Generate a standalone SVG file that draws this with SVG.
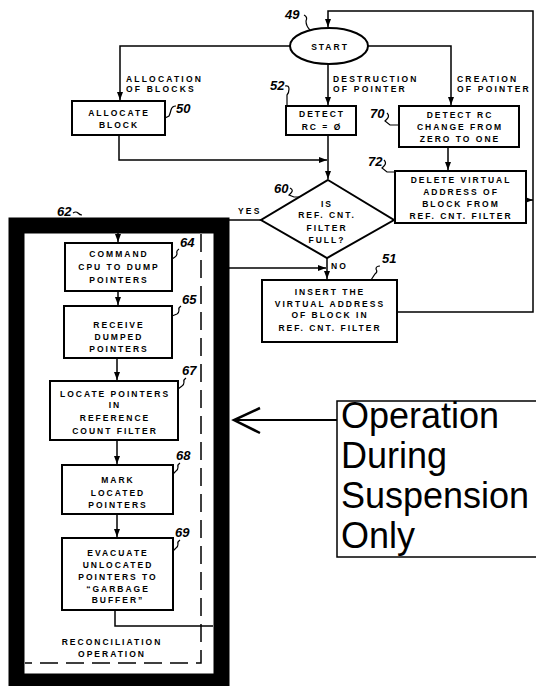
<svg xmlns="http://www.w3.org/2000/svg" width="536" height="686" viewBox="0 0 536 686">
<style>
.box{fill:#fff;stroke:#000;stroke-width:2}
.ln{fill:none;stroke:#000;stroke-width:1.5}
.sq{fill:none;stroke:#000;stroke-width:1.2}
.t{font-family:"Liberation Sans",Arial,sans-serif;font-weight:bold;font-size:8.5px;letter-spacing:2px;text-anchor:middle;fill:#000}
.tl{font-family:"Liberation Sans",Arial,sans-serif;font-weight:bold;font-size:8.5px;letter-spacing:2.2px;fill:#000}
.num{font-family:"Liberation Sans",Arial,sans-serif;font-weight:bold;font-style:italic;font-size:13px;fill:#000}
.big{font-family:"Liberation Sans",Arial,sans-serif;font-size:36px;fill:#000}
</style>
<defs>
<marker id="ar" markerUnits="userSpaceOnUse" markerWidth="8" markerHeight="8" viewBox="0 0 8 8" refX="8" refY="4" orient="auto">
<path d="M0,1 L8,4 L0,7 z" fill="#000"/>
</marker>
</defs>
<rect width="536" height="686" fill="#fff"/>

<!-- thick frame and reconciliation region -->
<g id="frame62">
<rect x="16.5" y="225.5" width="205" height="456" fill="none" stroke="#000" stroke-width="16"/>
<path d="M201,234 V663 H25" fill="none" stroke="#000" stroke-width="1.5" stroke-dasharray="18,8"/>
<text class="num" x="57" y="216">62</text>
<path class="sq" d="M73,213 q3,-2 5,0 t4,2"/>
<text class="t" x="112" y="645">RECONCILIATION</text>
<text class="t" x="112" y="657">OPERATION</text>
</g>

<g id="connectors">
<path class="ln" d="M290,46 H120 V100" marker-end="url(#ar)"/>
<path class="ln" d="M328,64 V105" marker-end="url(#ar)"/>
<path class="ln" d="M368,46 H451 V105" marker-end="url(#ar)"/>
<path class="ln" d="M119,135 V160 H327" marker-end="url(#ar)"/>
<path class="ln" d="M328,135 V179" marker-end="url(#ar)"/>
<path class="ln" d="M448,147 V170" marker-end="url(#ar)"/>
<path class="ln" d="M526,200 H533" marker-end="url(#ar)"/>
<path class="ln" d="M397,312 H533 V11 H328 V27" marker-end="url(#ar)"/>
<path class="ln" d="M261,220 H229"/>
<path class="ln" d="M327,258 V279" marker-end="url(#ar)"/>
<path class="ln" d="M229,268 H326" marker-end="url(#ar)"/>
<path class="ln" d="M118,233 V242" marker-end="url(#ar)"/>
<path class="ln" d="M118,291 V305" marker-end="url(#ar)"/>
<path class="ln" d="M117,358 V380" marker-end="url(#ar)"/>
<path class="ln" d="M117,440 V464" marker-end="url(#ar)"/>
<path class="ln" d="M117,514 V537" marker-end="url(#ar)"/>
<path class="ln" d="M115,610 V626 H213"/>
<text class="tl" x="126" y="82">ALLOCATION</text>
<text class="tl" x="126" y="92">OF BLOCKS</text>
<text class="tl" x="333" y="82">DESTRUCTION</text>
<text class="tl" x="333" y="92">OF POINTER</text>
<text class="tl" x="457" y="82">CREATION</text>
<text class="tl" x="457" y="92">OF POINTER</text>
<text class="tl" x="238" y="214">YES</text>
<text class="tl" x="331" y="269">NO</text>
</g>

<g id="start49">
<ellipse cx="329" cy="46" rx="39" ry="18" fill="#fff" stroke="#000" stroke-width="2"/>
<text class="t" x="330" y="50">START</text>
<text class="num" x="285" y="19">49</text>
<path class="sq" d="M304,15 q4,2 2,6 q0,5 4,9"/>
</g>

<g id="box50">
<rect class="box" x="72" y="101" width="93" height="34"/>
<text class="t" x="119" y="116">ALLOCATE</text>
<text class="t" x="119" y="128">BLOCK</text>
<text class="num" x="176" y="113">50</text>
<path class="sq" d="M176,106 q-4,0 -5,4 t-2,6 l-4,2"/>
</g>

<g id="box52">
<rect class="box" x="286" y="106" width="70" height="29"/>
<text class="t" x="322" y="117">DETECT</text>
<text class="t" x="322" y="130">RC = Ø</text>
<text class="num" x="270" y="90">52</text>
<path class="sq" d="M285,86 q4,-1 4,3 q0,4 -2,6 v11"/>
</g>

<g id="box70">
<rect class="box" x="399" y="106" width="120" height="41"/>
<text class="t" x="460" y="118">DETECT RC</text>
<text class="t" x="460" y="130">CHANGE FROM</text>
<text class="t" x="460" y="142">ZERO TO ONE</text>
<text class="num" x="370" y="118">70</text>
<path class="sq" d="M387,113 q3,3 0,6 l-2,2 l5,4 h9"/>
</g>

<g id="box72">
<rect class="box" x="395" y="171" width="131" height="52"/>
<text class="t" x="461" y="183">DELETE VIRTUAL</text>
<text class="t" x="461" y="195">ADDRESS OF</text>
<text class="t" x="461" y="207">BLOCK FROM</text>
<text class="t" x="461" y="219">REF. CNT. FILTER</text>
<text class="num" x="368" y="166">72</text>
<path class="sq" d="M384,160 q3,3 0,6 l-2,2 l5,4 h8"/>
</g>

<g id="diamond60">
<polygon points="328,180 394,220 327,258 261,220" fill="#fff" stroke="#000" stroke-width="2"/>
<text class="t" x="327" y="207">IS</text>
<text class="t" x="327" y="218">REF. CNT.</text>
<text class="t" x="327" y="231">FILTER</text>
<text class="t" x="327" y="243">FULL?</text>
<text class="num" x="274" y="193">60</text>
<path class="sq" d="M290,188 q4,2 1,5 l-2,2 l5,2 h6"/>
</g>

<g id="box51">
<rect class="box" x="262" y="280" width="135" height="62"/>
<text class="t" x="330" y="295">INSERT THE</text>
<text class="t" x="330" y="307">VIRTUAL ADDRESS</text>
<text class="t" x="330" y="318">OF BLOCK IN</text>
<text class="t" x="330" y="331">REF. CNT. FILTER</text>
<text class="num" x="382" y="263">51</text>
<path class="sq" d="M380,266 q-4,0 -4,3 q2,3 -1,5 l-4,6"/>
</g>

<g id="box64">
<rect class="box" x="65" y="243" width="107" height="48"/>
<text class="t" x="119" y="257">COMMAND</text>
<text class="t" x="119" y="270">CPU TO DUMP</text>
<text class="t" x="119" y="283">POINTERS</text>
<text class="num" x="180" y="247">64</text>
<path class="sq" d="M179,249 q-3,2 -2,4 q0,3 -2,4 l-3,2"/>
</g>

<g id="box65">
<rect class="box" x="64" y="306" width="108" height="52"/>
<text class="t" x="119" y="328">RECEIVE</text>
<text class="t" x="119" y="340">DUMPED</text>
<text class="t" x="119" y="352">POINTERS</text>
<text class="num" x="182" y="304">65</text>
<path class="sq" d="M181,306 q-3,2 -2,4 q0,3 -2,4 l-5,2"/>
</g>

<g id="box67">
<rect class="box" x="50" y="381" width="128" height="59"/>
<text class="t" x="115" y="397">LOCATE POINTERS</text>
<text class="t" x="115" y="408">IN</text>
<text class="t" x="115" y="421">REFERENCE</text>
<text class="t" x="115" y="434">COUNT FILTER</text>
<text class="num" x="182" y="375">67</text>
<path class="sq" d="M186,378 q-3,2 -2,4 q0,3 -2,4 l-4,3"/>
</g>

<g id="box68">
<rect class="box" x="62" y="465" width="111" height="49"/>
<text class="t" x="118" y="483">MARK</text>
<text class="t" x="118" y="496">LOCATED</text>
<text class="t" x="118" y="508">POINTERS</text>
<text class="num" x="176" y="460">68</text>
<path class="sq" d="M180,463 q-3,2 -2,4 q0,3 -2,4 l-3,3"/>
</g>

<g id="box69">
<rect class="box" x="62" y="538" width="111" height="72"/>
<text class="t" x="118" y="556">EVACUATE</text>
<text class="t" x="118" y="568">UNLOCATED</text>
<text class="t" x="118" y="580">POINTERS TO</text>
<text class="t" x="118" y="592">“GARBAGE</text>
<text class="t" x="118" y="603">BUFFER”</text>
<text class="num" x="175" y="537">69</text>
<path class="sq" d="M180,540 q-3,2 -2,4 q0,3 -2,4 l-3,3"/>
</g>

<g id="callout">
<rect x="337" y="401" width="202" height="156" fill="#fff" stroke="#000" stroke-width="1.5"/>
<text class="big" x="341" y="428">Operation</text>
<text class="big" x="341" y="468">During</text>
<text class="big" x="341" y="508">Suspension</text>
<text class="big" x="341" y="548">Only</text>
<path d="M337,420 H235" fill="none" stroke="#000" stroke-width="2"/>
<path d="M260,408 L234,420 L260,433" fill="none" stroke="#000" stroke-width="2.5"/>
</g>
</svg>
